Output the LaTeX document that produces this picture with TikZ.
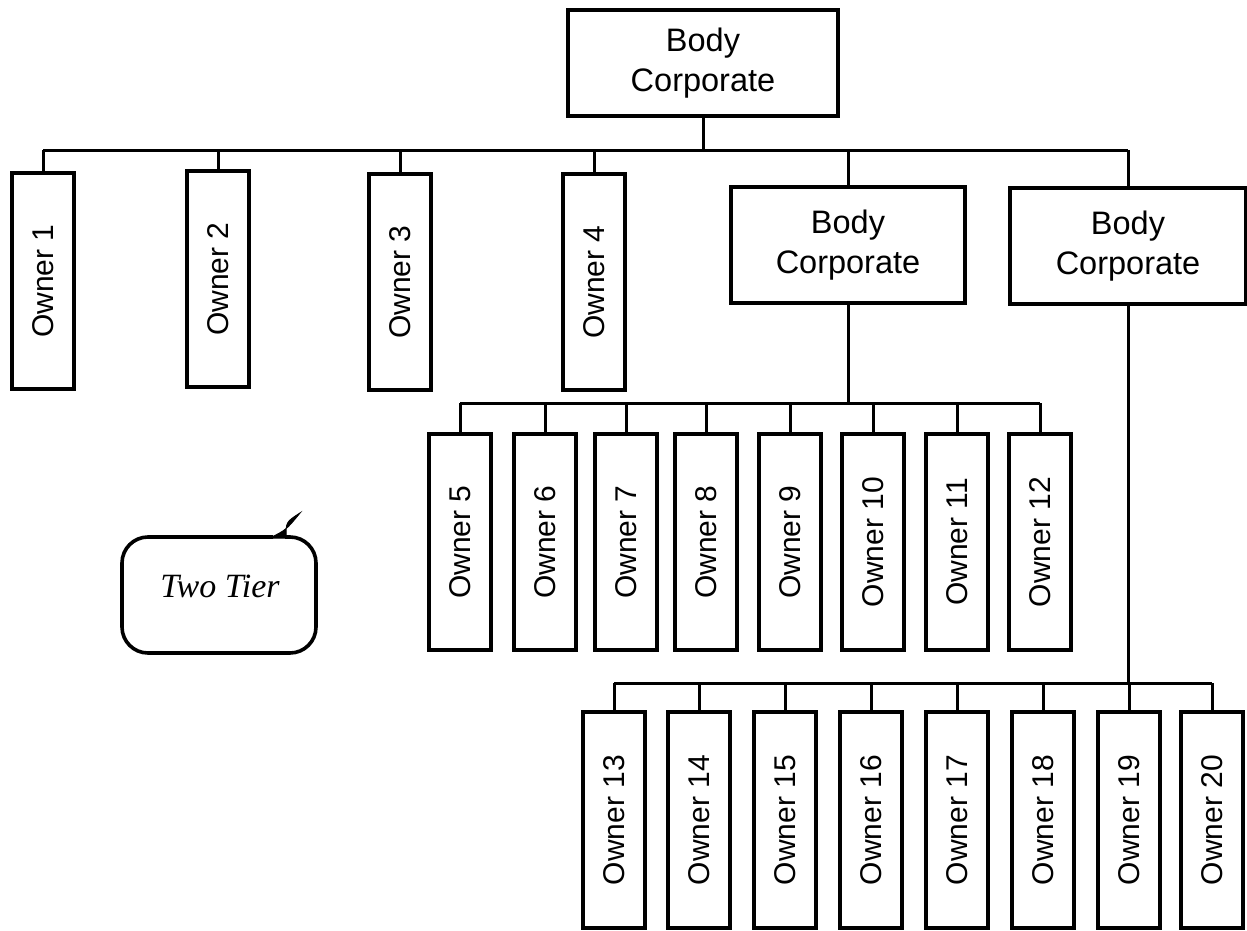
\documentclass[tikz,border=0pt]{standalone}
\usepackage{fontspec}
\setmainfont{Liberation Sans}
\newfontfamily\tierfont{Liberation Serif}
\begin{document}
\begin{tikzpicture}[x=1pt,y=-1pt,
  box/.style={draw,line width=3.4pt,rectangle,inner sep=0pt,align=center},
  corp/.style={box,minimum width=234pt,minimum height=116pt,font=\fontsize{32.5}{40}\selectfont},
  owner/.style={box,minimum width=62pt,minimum height=216pt,font=\fontsize{30}{36}\selectfont},
  conn/.style={line width=3pt},
  bubble/.style={line width=3.6pt,rounded corners=26pt}]
\useasboundingbox (0,0) rectangle (1247,931);

% top-level body corporate
\node[corp,minimum width=270pt,minimum height=106pt] (top) at (703,63) {Body\\Corporate};

% first tier
\node[owner] (o1) at (43,281)  {\rotatebox{90}{Owner 1}};
\node[owner] (o2) at (218,279) {\rotatebox{90}{Owner 2}};
\node[owner] (o3) at (400,282) {\rotatebox{90}{Owner 3}};
\node[owner] (o4) at (594,282) {\rotatebox{90}{Owner 4}};
\node[corp] (bc2) at (848,245) {Body\\Corporate};
\node[corp,minimum width=236pt] (bc3) at (1128,246) {Body\\Corporate};

% second tier under bc2
\foreach \n/\x in {5/460,6/545,7/626,8/706,9/790,10/873,11/957,12/1040}
  \node[owner] (o\n) at (\x,542) {\rotatebox{90}{Owner \n}};

% second tier under bc3
\foreach \n/\x in {13/614,14/699,15/785,16/871,17/957,18/1043,19/1129,20/1212}
  \node[owner] (o\n) at (\x,820) {\rotatebox{90}{Owner \n}};

% buses
\coordinate (bus1) at (0,150);
\coordinate (bus2) at (0,403);
\coordinate (bus3) at (0,683);

\draw[conn] (top.south) -- (top.south |- bus1);
\draw[conn] (o1.north |- bus1) -- (bc3.north |- bus1);
\foreach \c in {o1,o2,o3,o4,bc2,bc3}
  \draw[conn] (\c.north) -- (\c.north |- bus1);

\draw[conn] (bc2.south) -- (bc2.south |- bus2);
\draw[conn] (o5.north |- bus2) -- (o12.north |- bus2);
\foreach \n in {5,...,12}
  \draw[conn] (o\n.north) -- (o\n.north |- bus2);

\draw[conn] (bc3.south) -- (bc3.south |- bus3);
\draw[conn] (o13.north |- bus3) -- (o20.north |- bus3);
\foreach \n in {13,...,20}
  \draw[conn] (o\n.north) -- (o\n.north |- bus3);

% speech bubble
\node[font=\tierfont\itshape\fontsize{34}{40}\selectfont] (tier) at (220,586) {Two Tier};
\draw[bubble] (273,537) -- (122,537) -- (122,653) -- (316,653) -- (316,537) -- (285,537);
\draw[line width=1pt,fill=black] (270,538) .. controls (286,530) .. (300,513)
  .. controls (286,522) .. (286,538) -- cycle;
\end{tikzpicture}
\end{document}
